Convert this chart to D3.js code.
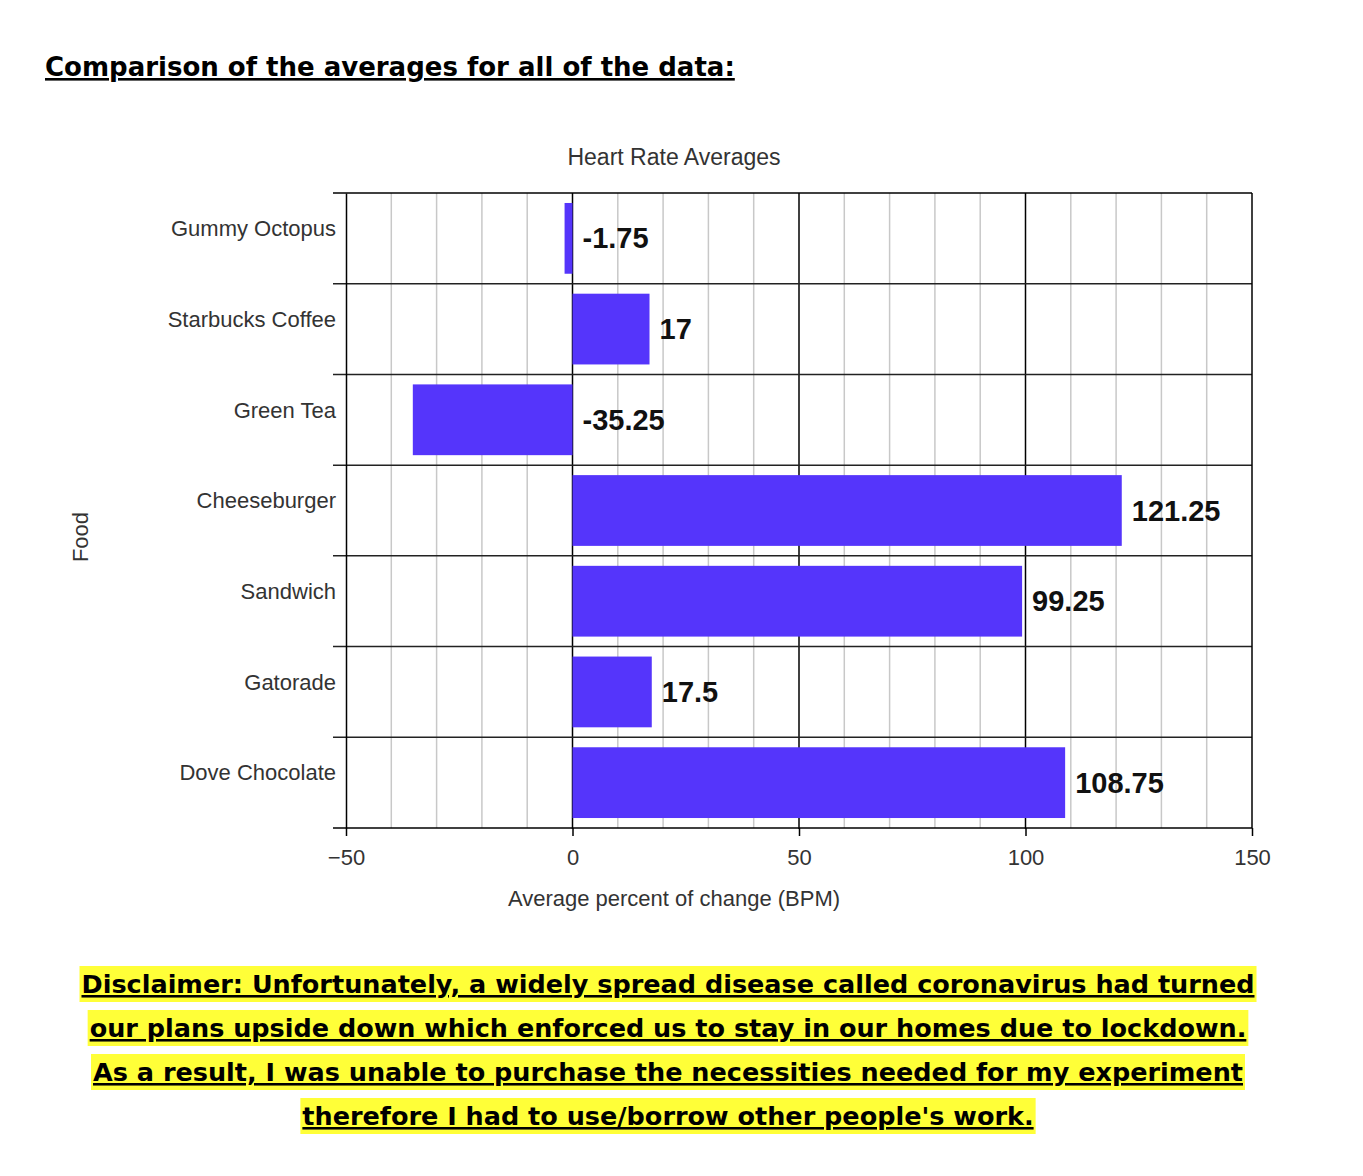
<!DOCTYPE html>
<html><head><meta charset="utf-8">
<script src="https://cdn.jsdelivr.net/npm/d3@7"></script>
<style>
body{margin:0;background:#fff;}
svg{display:block;}
</style></head><body>
<svg id="c" width="1363" height="1176"></svg>
<script>
const categories=["Gummy Octopus","Starbucks Coffee","Green Tea","Cheeseburger","Sandwich","Gatorade","Dove Chocolate"];
const values=[-1.75,17,-35.25,121.25,99.25,17.5,108.75];
const valueLabels=["-1.75","17","-35.25","121.25","99.25","17.5","108.75"];
const xTicks=[-50,0,50,100,150];
const disclaimer=["Disclaimer: Unfortunately, a widely spread disease called coronavirus had turned","our plans upside down which enforced us to stay in our homes due to lockdown.","As a result, I was unable to purchase the necessities needed for my experiment","therefore I had to use/borrow other people's work."];

const svg=d3.select("#c");
const L=346,R=1252,T=193,B=828;
const x=d3.scaleLinear().domain([-50,150]).range([L,R]);
const y=d3.scaleBand().domain(categories).range([T,B]).paddingInner(0.22).paddingOuter(0.11);
const yRow=d3.scaleBand().domain(categories).range([T,B]);

// page title
const tt=svg.append("text").attr("x",45).attr("y",76).attr("font-family","DejaVu Sans").attr("font-weight","bold").attr("font-size",26).attr("text-decoration","underline").attr("fill","#000").text("Comparison of the averages for all of the data:");

// minor grid
svg.append("g").selectAll("line").data(d3.range(-40,150,10).filter(v=>v%50!==0)).join("line")
 .attr("x1",d=>x(d)).attr("x2",d=>x(d)).attr("y1",T).attr("y2",B).attr("stroke","#c8c8c8").attr("stroke-width",1.5);
// major grid
svg.append("g").selectAll("line").data([0,50,100]).join("line")
 .attr("x1",d=>x(d)).attr("x2",d=>x(d)).attr("y1",T).attr("y2",B+1).attr("stroke","#000").attr("stroke-width",1.5);
// row lines
svg.append("g").selectAll("line").data(categories.slice(1)).join("line")
 .attr("x1",333).attr("x2",R).attr("y1",d=>yRow(d)).attr("y2",d=>yRow(d)).attr("stroke","#222").attr("stroke-width",1.5);
// border
svg.append("line").attr("x1",333).attr("x2",R).attr("y1",T).attr("y2",T).attr("stroke","#000").attr("stroke-width",1.5);
svg.append("line").attr("x1",R).attr("x2",R).attr("y1",T).attr("y2",B).attr("stroke","#000").attr("stroke-width",1.5);

// bars
svg.append("g").selectAll("rect").data(values).join("rect")
 .attr("x",d=>x(Math.min(0,d))).attr("width",d=>Math.abs(x(d)-x(0)))
 .attr("y",(d,i)=>y(categories[i])).attr("height",y.bandwidth()).attr("fill","#5535fb");
// value labels
svg.append("g").selectAll("text").data(values).join("text")
 .attr("x",d=>x(Math.max(0,d))+10).attr("y",(d,i)=>y(categories[i])+y.bandwidth()/2+10)
 .attr("font-family","Liberation Sans").attr("font-weight","bold").attr("font-size",29).attr("fill","#111")
 .text((d,i)=>valueLabels[i]);

// x axis
const xa=svg.append("g").attr("transform",`translate(0,${B})`).call(d3.axisBottom(x).tickValues(xTicks).tickSize(8).tickSizeOuter(0));
xa.select(".domain").attr("d",`M333,0H${R}`).attr("stroke","#000").attr("stroke-width",1.5);
xa.selectAll("line").attr("stroke","#000").attr("stroke-width",1.5);
xa.selectAll("text").attr("font-family","Liberation Sans").attr("font-size",22).attr("fill","#333").attr("dy","1.2em");
// y axis
const ya=svg.append("g").attr("transform",`translate(${L},0)`).call(d3.axisLeft(yRow).tickSize(0).tickSizeOuter(0).tickPadding(10));
ya.select(".domain").attr("stroke","#000").attr("stroke-width",1.5);
ya.selectAll("text").attr("font-family","Liberation Sans").attr("font-size",22).attr("fill","#333").attr("dy","-0.1em");

svg.append("text").attr("x",674).attr("y",165).attr("text-anchor","middle").attr("font-family","Liberation Sans").attr("font-size",23).attr("fill","#333").text("Heart Rate Averages");
svg.append("text").attr("x",674).attr("y",906).attr("text-anchor","middle").attr("font-family","Liberation Sans").attr("font-size",22).attr("fill","#333").text("Average percent of change (BPM)");
svg.append("text").attr("transform","translate(88,537) rotate(-90)").attr("text-anchor","middle").attr("font-family","Liberation Sans").attr("font-size",22).attr("fill","#333").text("Food");

// disclaimer
const dg=svg.append("g");
disclaimer.forEach((s,i)=>{
  const yy=993+i*44;
  const t=dg.append("text").attr("x",668).attr("y",yy).attr("text-anchor","middle").attr("font-family","DejaVu Sans").attr("font-weight","bold").attr("font-size",25.5).attr("text-decoration","underline").attr("fill","#000").text(s);
  const bb=t.node().getBBox();
  dg.insert("rect","text").attr("x",bb.x-2).attr("y",yy-27).attr("width",bb.width+4).attr("height",36).attr("fill","#ffff38");
});
</script></body></html>
